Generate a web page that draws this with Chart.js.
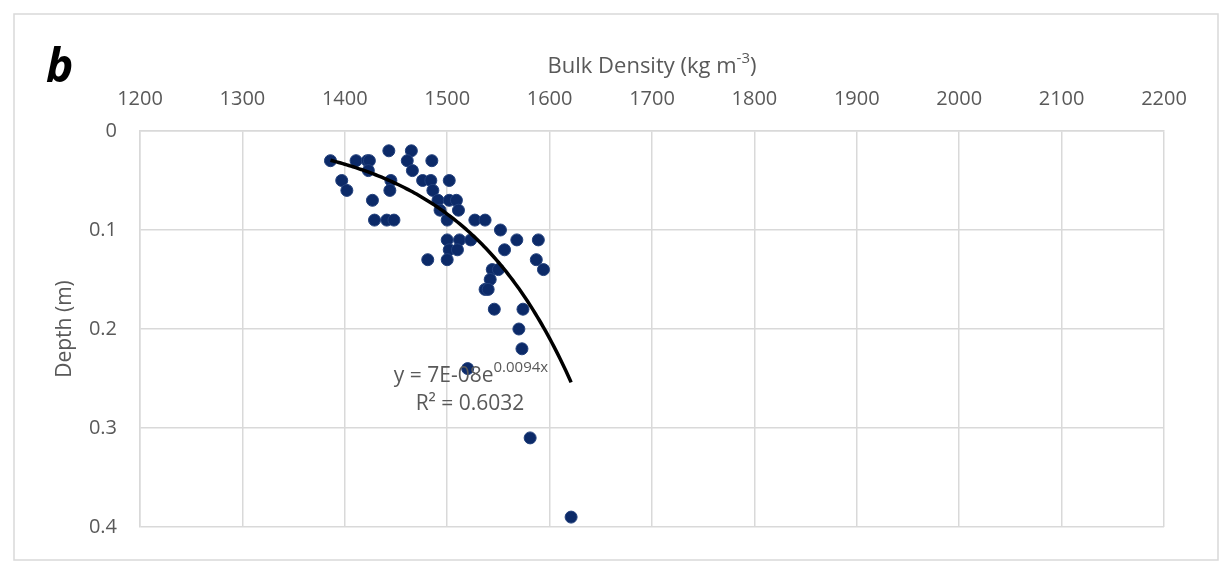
<!DOCTYPE html>
<html>
<head>
<meta charset="utf-8">
<script src="https://cdn.jsdelivr.net/npm/chart.js@4.4.1/dist/chart.umd.min.js"></script>
<style>
    html, body { margin: 0; padding: 0; background: #fff; }
    #wrap { position: relative; width: 1223px; height: 562px; }
</style>
</head>
<body>
<div id="wrap"><canvas id="densityChart"></canvas></div>
<script>
// bulk density (kg m-3) and depth (m) of each sample
const bulkDensity = [
    1386, 1397, 1402, 1411, 1422, 1424, 1423, 1427, 1429, 1441,
    1448, 1443, 1445, 1444, 1465, 1461, 1466, 1476, 1485, 1484,
    1486, 1491, 1502, 1502, 1509, 1493, 1511, 1500, 1527, 1537,
    1552, 1500, 1512, 1523, 1568, 1589, 1502, 1510, 1556, 1481,
    1500, 1587, 1594, 1544, 1550, 1542, 1537, 1540, 1546, 1574,
    1570, 1573, 1520, 1581, 1621
];
const depth = [
    0.03, 0.05, 0.06, 0.03, 0.03, 0.03, 0.04, 0.07, 0.09, 0.09,
    0.09, 0.02, 0.05, 0.06, 0.02, 0.03, 0.04, 0.05, 0.03, 0.05,
    0.06, 0.07, 0.05, 0.07, 0.07, 0.08, 0.08, 0.09, 0.09, 0.09,
    0.10, 0.11, 0.11, 0.11, 0.11, 0.11, 0.12, 0.12, 0.12, 0.13,
    0.13, 0.13, 0.14, 0.14, 0.14, 0.15, 0.16, 0.16, 0.18, 0.18,
    0.20, 0.22, 0.24, 0.31, 0.39
];
const xTicks = [1200, 1300, 1400, 1500, 1600, 1700, 1800, 1900, 2000, 2100, 2200];
const yTicks = [0, 0.1, 0.2, 0.3, 0.4];
const xTitle = ['Bulk Density (kg m', '-3', ')'];
const equationText = 'y = 7E-08e';
const equationExp = '0.0094x';
const rSquaredText = 'R\u00B2 = 0.6032';

const TEXT = '#595959';
const GRID = '#d9d9d9';
const FONT = "'Open Sans', 'Liberation Sans', sans-serif";

// exponential trendline, least squares on ln(depth) like Excel does
function expFit(xs, ys) {
    const n = xs.length;
    let sx = 0, sy = 0, sxx = 0, sxy = 0;
    for (let i = 0; i < n; i++) {
        const ly = Math.log(ys[i]);
        sx += xs[i]; sy += ly; sxx += xs[i] * xs[i]; sxy += xs[i] * ly;
    }
    const b = (n * sxy - sx * sy) / (n * sxx - sx * sx);
    const a = Math.exp((sy - b * sx) / n);
    return { a, b };
}

const points = bulkDensity.map((x, i) => ({ x, y: depth[i] }));
const fit = expFit(bulkDensity, depth);
const xMin = Math.min(...bulkDensity), xMax = Math.max(...bulkDensity);
const trend = [];
for (let x = xMin; x < xMax; x += 2) trend.push({ x, y: fit.a * Math.exp(fit.b * x) });
trend.push({ x: xMax, y: fit.a * Math.exp(fit.b * xMax) });

// text with a raised part: [base, sup, rest]
function drawSupText(ctx, parts, cx, cy, size, supSize) {
    ctx.font = `${size}px ${FONT}`;
    const w0 = ctx.measureText(parts[0]).width;
    const w2 = parts[2] ? ctx.measureText(parts[2]).width : 0;
    ctx.font = `${supSize}px ${FONT}`;
    const w1 = ctx.measureText(parts[1]).width;
    let x = cx - (w0 + w1 + w2) / 2;
    ctx.textAlign = 'left';
    ctx.textBaseline = 'middle';
    ctx.font = `${size}px ${FONT}`;
    ctx.fillText(parts[0], x, cy);
    x += w0;
    ctx.font = `${supSize}px ${FONT}`;
    ctx.fillText(parts[1], x, cy - size * 0.38);
    x += w1;
    if (parts[2]) {
        ctx.font = `${size}px ${FONT}`;
        ctx.fillText(parts[2], x, cy);
    }
}

const decorations = {
    id: 'decorations',
    beforeDraw(chart) {
        const ctx = chart.ctx;
        ctx.save();
        ctx.strokeStyle = GRID;
        ctx.lineWidth = 1.5;
        ctx.strokeRect(14, 14, 1204, 546);
        ctx.restore();
    },
    afterDraw(chart) {
        const ctx = chart.ctx;
        const area = chart.chartArea;
        ctx.save();
        // panel letter
        ctx.fillStyle = '#000';
        ctx.font = `italic bold 46px ${FONT}`;
        ctx.textBaseline = 'alphabetic';
        ctx.textAlign = 'left';
        ctx.fillText('b', 46, 82);

        ctx.fillStyle = TEXT;
        // x axis title
        drawSupText(ctx, xTitle, (area.left + area.right) / 2, 67, 22, 15);
        // trendline equation
        drawSupText(ctx, [equationText, equationExp, ''], 471, 376, 21, 15);
        ctx.font = `21px ${FONT}`;
        ctx.textAlign = 'center';
        ctx.textBaseline = 'middle';
        ctx.fillText(rSquaredText, 470, 404);
        ctx.restore();
    }
};

Chart.defaults.font.family = FONT;
Chart.defaults.color = TEXT;

new Chart(document.getElementById('densityChart').getContext('2d'), {
    type: 'scatter',
    data: {
        datasets: [
            {
                label: 'Trend',
                data: trend,
                showLine: true,
                borderColor: '#000',
                borderWidth: 3.5,
                pointRadius: 0,
                tension: 0,
                order: 0,
            },
            {
                label: 'Bulk density',
                data: points,
                backgroundColor: '#0c2a68',
                borderColor: '#22407c',
                borderWidth: 1,
                pointRadius: 6,
                order: 1,
            },
        ],
    },
    options: {
        responsive: true,
        maintainAspectRatio: false,
        animation: false,
        layout: { padding: { left: 0, top: 0, right: 59, bottom: 32 } },
        plugins: { legend: { display: false }, tooltip: { enabled: false } },
        scales: {
            x: {
                type: 'linear',
                position: 'top',
                min: xTicks[0],
                max: xTicks[xTicks.length - 1],
                afterBuildTicks: s => { s.ticks = xTicks.map(v => ({ value: v })); },
                afterFit: s => { s.height = 131; },
                ticks: {
                    padding: 20,
                    font: { size: 20 },
                    color: TEXT,
                    callback: v => String(v),
                },
                grid: { color: GRID, lineWidth: 1.5, drawTicks: false },
                border: { color: GRID, width: 1.5 },
                title: { display: false },
            },
            y: {
                type: 'linear',
                reverse: true,
                min: yTicks[0],
                max: yTicks[yTicks.length - 1],
                afterBuildTicks: s => { s.ticks = yTicks.map(v => ({ value: v })); },
                afterFit: s => { s.width = 140; },
                ticks: {
                    padding: 23,
                    font: { size: 20 },
                    color: TEXT,
                    callback: v => String(v),
                },
                grid: { color: GRID, lineWidth: 1.5, drawTicks: false },
                border: { color: GRID, width: 1.5 },
                title: {
                    display: true,
                    text: 'Depth (m)',
                    font: { size: 21 },
                    color: TEXT,
                    padding: { top: 52, bottom: 0 },
                },
            },
        },
    },
    plugins: [decorations],
});
</script>
</body>
</html>
